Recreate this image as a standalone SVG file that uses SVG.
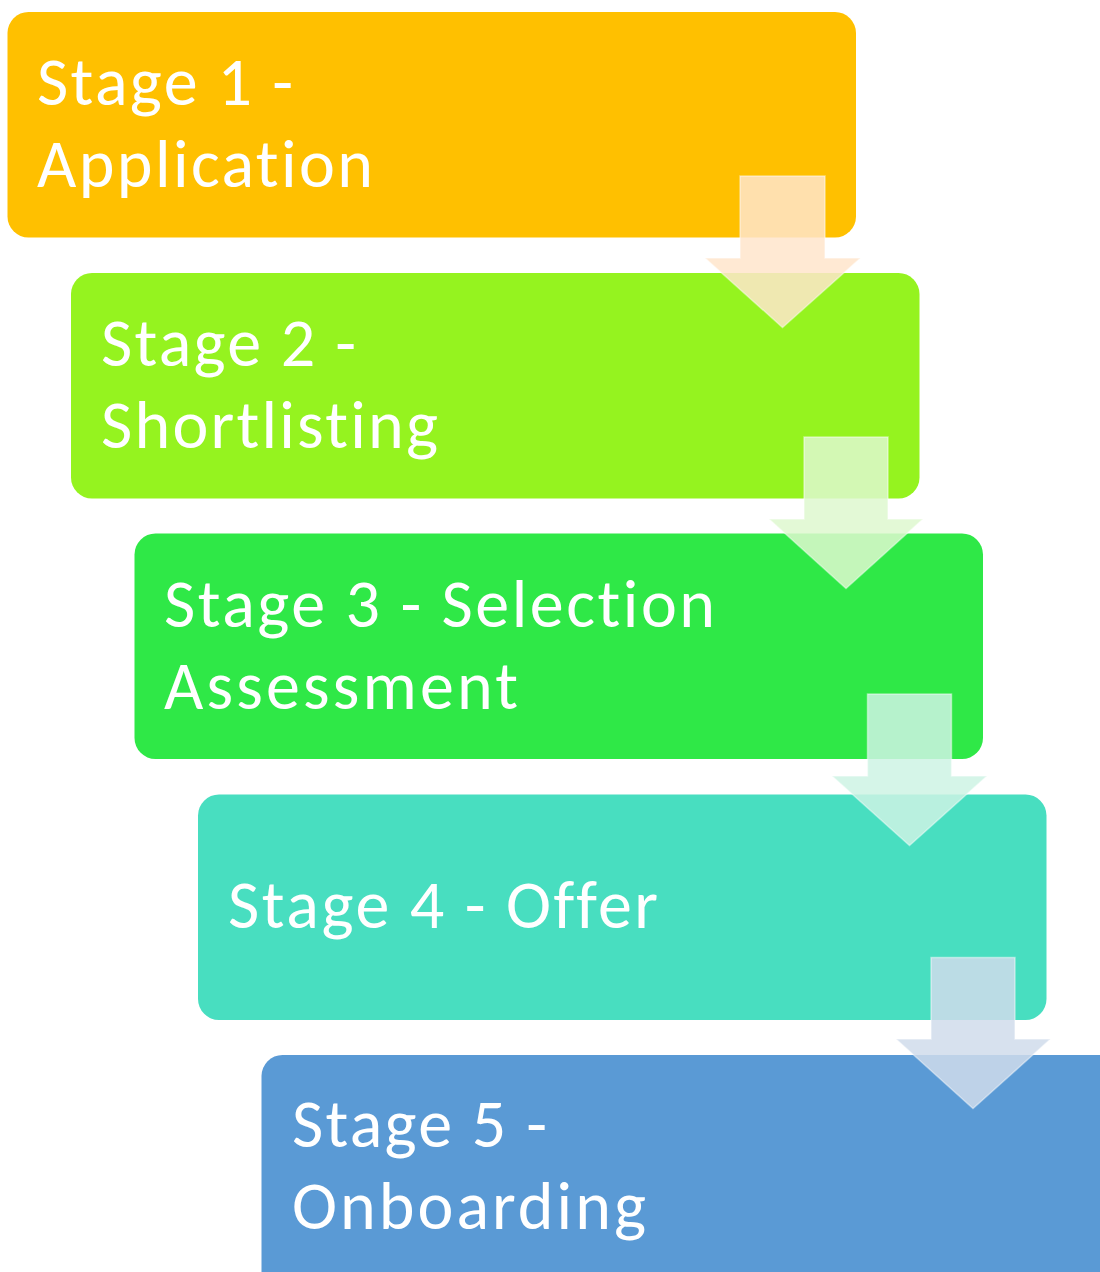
<svg xmlns="http://www.w3.org/2000/svg" width="1100" height="1272" viewBox="0 0 1100 1272">
  <style>
    .box { stroke: none; }
    .label { font-family: Carlito, Lato, "Liberation Sans", sans-serif; font-size: 68px; fill: #FFFFFF; font-variant-ligatures: none; font-feature-settings: "liga" 0, "clig" 0; }
    .arrow { stroke: #FFFFFF; stroke-opacity: 0.45; stroke-width: 1.5; fill-opacity: 0.85; }
  </style>

  <rect width="1100" height="1272" fill="#FFFFFF"/>

  <!-- process stages -->
  <g id="stage1">
    <rect class="box" x="7.5" y="12" width="848.5" height="225.5" rx="21" fill="#FFC000"/>
    <text class="label" x="37" y="105" textLength="256" lengthAdjust="spacing">Stage 1 -</text>
    <text class="label" x="37" y="187" textLength="336" lengthAdjust="spacing">Application</text>
  </g>

  <g id="stage2">
    <rect class="box" x="71" y="273" width="848.5" height="225.5" rx="21" fill="#95F31F"/>
    <text class="label" x="101" y="366" textLength="255" lengthAdjust="spacing">Stage 2 -</text>
    <text class="label" x="101" y="448" textLength="337" lengthAdjust="spacing">Shortlisting</text>
  </g>

  <g id="stage3">
    <rect class="box" x="134.5" y="533.5" width="848.5" height="225.5" rx="21" fill="#2FE847"/>
    <text class="label" x="164" y="627" textLength="551" lengthAdjust="spacing">Stage 3 - Selection</text>
    <text class="label" x="164" y="709" textLength="354" lengthAdjust="spacing">Assessment</text>
  </g>

  <g id="stage4">
    <rect class="box" x="198" y="794.5" width="848.5" height="225.5" rx="21" fill="#48DEC0"/>
    <text class="label" x="228" y="928" textLength="430" lengthAdjust="spacing">Stage 4 - Offer</text>
  </g>

  <g id="stage5">
    <rect class="box" x="261.5" y="1055" width="870" height="240" rx="21" fill="#5A9AD5"/>
    <text class="label" x="292" y="1147" textLength="255" lengthAdjust="spacing">Stage 5 -</text>
    <text class="label" x="292" y="1229" textLength="354" lengthAdjust="spacing">Onboarding</text>
  </g>

  <!-- down arrows between stages -->
  <g id="connectors">
    <path class="arrow" fill="#FFE5CB" d="M740 176 H825 V258 H860.5 L782.5 327.5 L705 258 H740 Z"/>
    <path class="arrow" fill="#DEF8CF" d="M804 437 H888 V519 H923 L846 588.5 L769 519 H804 Z"/>
    <path class="arrow" fill="#CEF3E4" d="M867.5 694 H951.5 V776 H987 L909.5 845.5 L832 776 H867.5 Z"/>
    <path class="arrow" fill="#D0DCEB" d="M931 957.5 H1015 V1039 H1050.5 L973 1108.5 L896 1039 H931 Z"/>
  </g>
</svg>
